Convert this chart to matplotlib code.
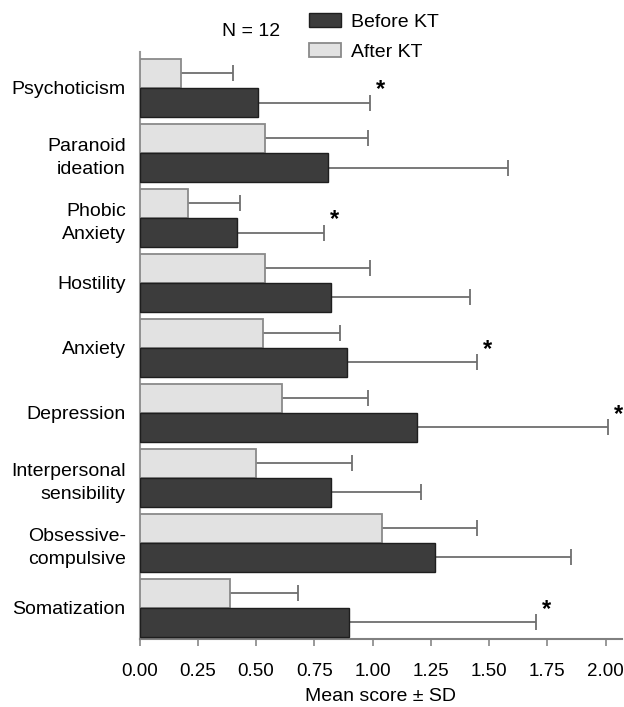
import numpy as np
import matplotlib
matplotlib.use("Agg")
import matplotlib.pyplot as plt
from matplotlib.patches import Patch

plt.rcParams['font.family'] = ['Liberation Sans', 'DejaVu Sans']

# categories listed top to bottom as shown
categories = ["Psychoticism", "Paranoid\nideation", "Phobic\nAnxiety", "Hostility",
              "Anxiety", "Depression", "Interpersonal\nsensibility",
              "Obsessive-\ncompulsive", "Somatization"]
before_mean = [0.51, 0.81, 0.42, 0.82, 0.89, 1.19, 0.82, 1.27, 0.90]
before_sd = [0.48, 0.77, 0.37, 0.60, 0.56, 0.82, 0.39, 0.58, 0.80]
after_mean = [0.18, 0.54, 0.21, 0.54, 0.53, 0.61, 0.50, 1.04, 0.39]
after_sd = [0.22, 0.44, 0.22, 0.45, 0.33, 0.37, 0.41, 0.41, 0.29]
significant = [True, False, True, False, True, True, False, False, True]

fig = plt.figure(figsize=(6.24, 7.07), dpi=100)
ax = fig.add_axes([0.2236, 0.0962, 0.773, 0.830])

n = len(categories)
y = np.arange(n)[::-1]
h = 0.45

ax.barh(y + h / 2, after_mean, height=h, color='#e2e2e2', edgecolor='#8a8a8a',
        linewidth=1.3, label="After KT", zorder=3)
ax.barh(y - h / 2, before_mean, height=h, color='#3c3c3c', edgecolor='#1e1e1e',
        linewidth=1.0, label="Before KT", zorder=3)

# one-sided error bars (+SD only)
for yy, m, sd in [(y + h / 2, after_mean, after_sd), (y - h / 2, before_mean, before_sd)]:
    m = np.array(m)
    sd = np.array(sd)
    ax.hlines(yy, m, m + sd, color='#6e6e6e', linewidth=1.3, zorder=2)
    ax.plot(m + sd, yy, linestyle='none', marker='|', markersize=12,
            markeredgewidth=1.3, color='#6e6e6e', zorder=2)

# significance stars
for i in range(n):
    if significant[i]:
        ax.text(before_mean[i] + before_sd[i] + 0.045, y[i] - 0.02, "*",
                fontsize=17, fontweight='bold', ha='center', va='center',
                clip_on=False)

ax.set_xlim(0, 2.07)
ax.set_ylim(-0.48, n - 1 + 0.55)
ax.set_xticks(np.arange(0, 2.01, 0.25))
ax.set_xticklabels(["%.2f" % v for v in np.arange(0, 2.01, 0.25)], fontsize=13.5)
ax.set_yticks(y)
ax.set_yticklabels(categories, fontsize=14, ha='right', multialignment='right',
                   linespacing=1.45)
ax.tick_params(axis='y', length=0, pad=10)
ax.tick_params(axis='x', length=5, width=1.2, color='#888888', pad=12)
ax.set_xlabel("Mean score \u00b1 SD", fontsize=14, labelpad=6)

for s in ['top', 'right']:
    ax.spines[s].set_visible(False)
ax.spines['left'].set_color('#999999')
ax.spines['left'].set_linewidth(1.5)
ax.spines['bottom'].set_color('#808080')
ax.spines['bottom'].set_linewidth(1.5)

handles = [Patch(facecolor='#3c3c3c', edgecolor='#1e1e1e', label="Before KT"),
           Patch(facecolor='#e2e2e2', edgecolor='#8a8a8a', linewidth=1.3, label="After KT")]
fig.legend(handles=handles, loc='upper left', bbox_to_anchor=(296 / 624, 1.0),
           frameon=False, fontsize=14, handlelength=1.65, handleheight=0.75,
           handletextpad=0.55, labelspacing=0.65, borderpad=0.15)
fig.text(251 / 624, 1 - 32 / 707, "N = 12", fontsize=14, ha='center', va='center')

fig.savefig("out.png", dpi=100)
